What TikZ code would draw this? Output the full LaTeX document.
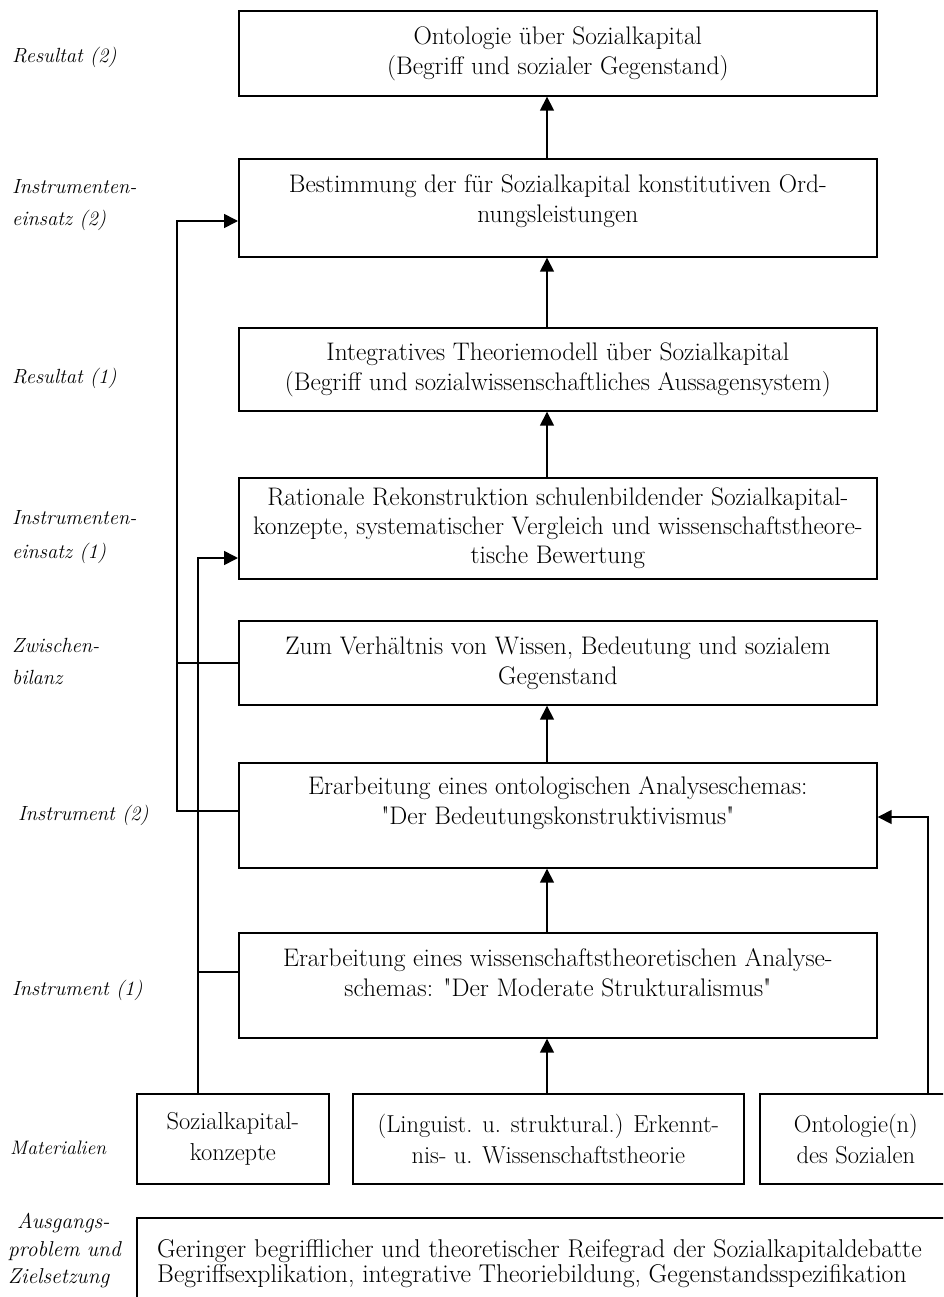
\documentclass[tikz,border=0pt]{standalone}
\usepackage{fontspec}
\usetikzlibrary{arrows.meta}
\begin{document}
\begin{tikzpicture}[x=1pt,y=-1pt,
  box/.style={draw, line width=1.7pt, rectangle, inner sep=0pt, anchor=north west},
  txt/.style={align=center, inner sep=0pt, font=\fontsize{25.4}{30}\selectfont},
  mat/.style={align=center, inner sep=0pt, font=\fontsize{24.5}{31}\selectfont},
  side/.style={anchor=west, align=left, inner sep=0pt, font=\itshape\fontsize{20.5}{32}\selectfont},
  conn/.style={line width=1.6pt},
  arr/.style={conn, -{Triangle[length=14pt,width=14pt]}},
]
\useasboundingbox (0,0) rectangle (943,1297);
\fill[white] (0,0) rectangle (943,1297);
\clip (0,0) rectangle (943,1297);

% main column of steps
\node[box, minimum width=638pt, minimum height=85pt, txt] (b1) at (238,10)
  {Ontologie über Sozialkapital\\(Begriff und sozialer Gegenstand)};
\node[box, minimum width=638pt, minimum height=98pt,
  label={[txt, yshift=7pt]center:Bestimmung der für Sozialkapital konstitutiven Ord-\\nungsleistungen}] (b2) at (238,158) {};
\node[box, minimum width=638pt, minimum height=83pt, txt] (b3) at (238,327)
  {Integratives Theoriemodell über Sozialkapital\\(Begriff und sozialwissenschaftliches Aussagensystem)};
\node[box, minimum width=638pt, minimum height=101pt, txt, font=\fontsize{25.4}{29}\selectfont] (b4) at (238,477)
  {Rationale Rekonstruktion schulenbildender Sozialkapital-\\konzepte, systematischer Vergleich und wissenschaftstheore-\\tische Bewertung};
\node[box, minimum width=638pt, minimum height=84pt, txt] (b5) at (238,620)
  {Zum Verhältnis von Wissen, Bedeutung und sozialem\\Gegenstand};
\node[box, minimum width=638pt, minimum height=105pt,
  label={[txt, yshift=12.5pt]center:Erarbeitung eines ontologischen Analyseschemas:\\\textquotedbl Der Bedeutungskonstruktivismus\textquotedbl}] (b6) at (238,762) {};
\node[box, minimum width=638pt, minimum height=105pt,
  label={[txt, yshift=12.5pt]center:Erarbeitung eines wissenschaftstheoretischen Analyse-\\schemas: \textquotedbl Der Moderate Strukturalismus\textquotedbl}] (b7) at (238,932) {};

% materials
\node[box, minimum width=192pt, minimum height=90pt, mat] (m1) at (136,1093)
  {Sozialkapital-\\konzepte};
\node[box, minimum width=391pt, minimum height=90pt, mat] (m2) at (352,1093)
  {(Linguist. u. struktural.) Erkennt-\\nis- u. Wissenschaftstheorie};
\node[box, minimum width=192pt, minimum height=90pt, mat] (m3) at (759,1093)
  {Ontologie(n)\\des Sozialen};

% starting problem
\node[box, minimum width=830pt, minimum height=95pt,
  label={[anchor=west, xshift=21pt, yshift=2pt, align=left, inner sep=0pt,
          font=\fontsize{25.7}{24.5}\selectfont]west:Geringer begrifflicher und theoretischer Reifegrad der Sozialkapitaldebatte\\Begriffsexplikation, integrative Theoriebildung, Gegenstandsspezifikation}] (ag) at (136,1217) {};

% level labels
\node[side] (l1) at (12,57) {Resultat (2)};
\node[side] (l2) at (12,205) {Instrumenten-\\einsatz (2)};
\node[side] (l3) at (12,378) {Resultat (1)};
\node[side, font=\itshape\fontsize{20.5}{34}\selectfont] (l4) at (12,537) {Instrumenten-\\einsatz (1)};
\node[side] (l5) at (12,661) {Zwischen-\\bilanz};
\node[side] (l6) at (18,815) {Instrument (2)};
\node[side] (l7) at (12,990) {Instrument (1)};
\node[side, font=\itshape\fontsize{19.5}{22}\selectfont] (l8) at (10,1148) {Materialien};
\node[side, font=\itshape\fontsize{21.5}{27.5}\selectfont] (l9) at (8,1251)
  {\hspace*{9pt}Ausgangs-\\problem und\\Zielsetzung};

% central upward flow
\coordinate (ax) at (547,0);
\draw[arr] (m2.north -| ax) -- (b7.south -| ax);
\draw[arr] (b7.north -| ax) -- (b6.south -| ax);
\draw[arr] (b6.north -| ax) -- (b5.south -| ax);
\draw[arr] (b4.north -| ax) -- (b3.south -| ax);
\draw[arr] (b3.north -| ax) -- (b2.south -| ax);
\draw[arr] (b2.north -| ax) -- (b1.south -| ax);

% outer left bus: instruments and interim result feed step 2
\coordinate (busA) at (177,221);
\coordinate (jA) at (177,811);
\draw[arr] (jA -| b6.west) -- (jA) -- (busA) -- (busA -| b2.west);
\draw[conn] (b5.west) -- (b5.west -| busA);

% inner left bus: social capital concepts
\coordinate (busB) at (198,558);
\coordinate (jB) at (198,972);
\draw[arr] (busB |- m1.north) -- (busB) -- (busB -| b4.west);
\draw[conn] (jB) -- (jB -| b7.west);

% right bus: social ontologies
\coordinate (busC) at (928,817);
\draw[arr] (busC |- m3.north) -- (busC) -- (busC -| b6.east);
\end{tikzpicture}
\end{document}
